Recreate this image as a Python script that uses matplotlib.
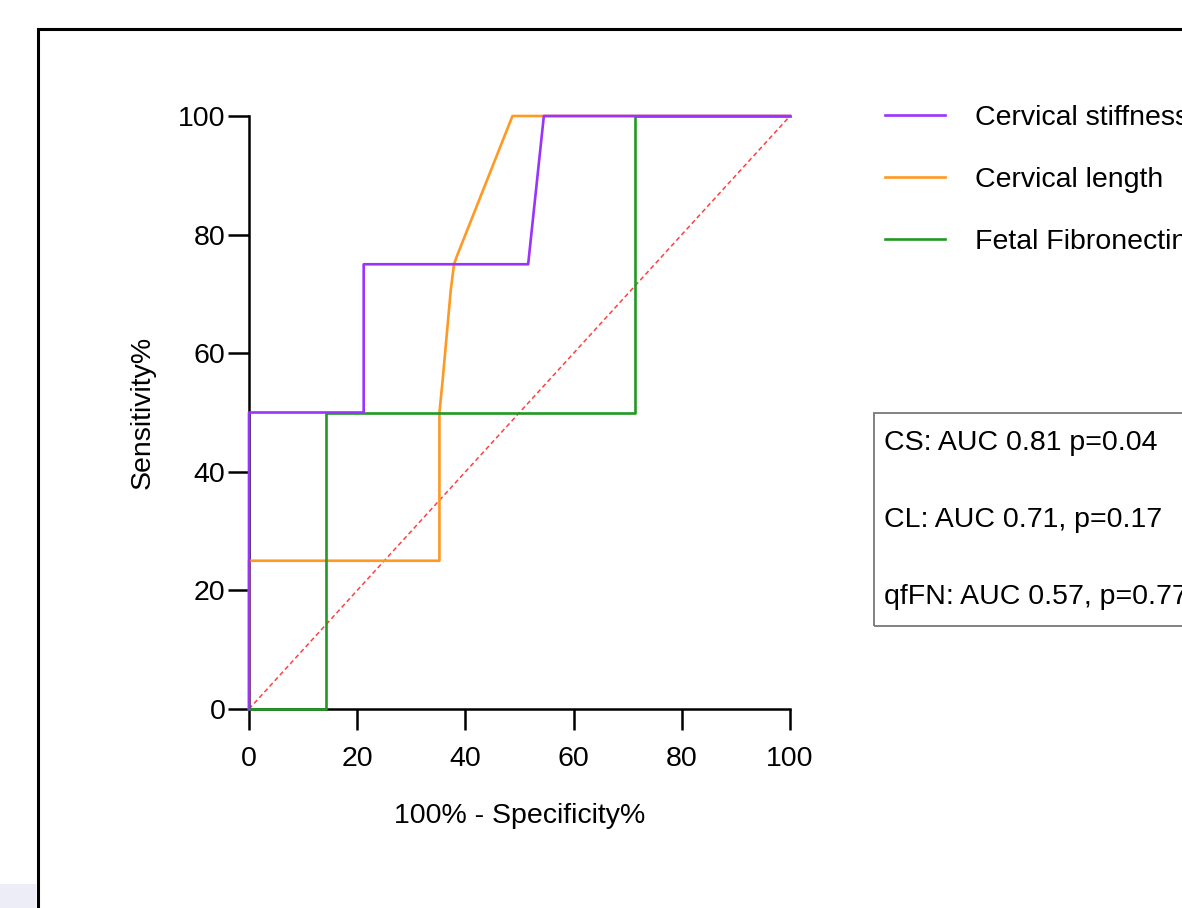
import matplotlib
matplotlib.use("Agg")
import matplotlib.pyplot as plt
from matplotlib.patches import Rectangle

plt.rcParams['font.family'] = ['Liberation Sans', 'DejaVu Sans']

# ROC curves (100% - specificity, sensitivity)
cs_x = [0, 0, 21.2, 21.2, 51.6, 54.5, 100]
cs_y = [0, 50, 50, 75, 75, 100, 100]
cl_x = [0, 0, 35.2, 35.2, 35.8, 37.3, 37.9, 38.4, 48.7, 100]
cl_y = [0, 25, 25, 50, 55.5, 70.7, 75, 76.3, 100, 100]
fn_x = [0, 14.3, 14.3, 71.3, 71.3, 100]
fn_y = [0, 0, 50, 50, 100, 100]
ref_x = [0, 100]
ref_y = [0, 100]

labels = ['Cervical stiffness', 'Cervical length', 'Fetal Fibronectin']
colors = ['#9933ff', '#ff9922', '#229922']
ticks = [0, 20, 40, 60, 80, 100]
stats = ['CS: AUC 0.81 p=0.04', 'CL: AUC 0.71, p=0.17', 'qfFN: AUC 0.57, p=0.77']

FS = 20.5
W, H = 1182, 908
fig = plt.figure(figsize=(W / 100, H / 100), dpi=100)
ax = fig.add_axes([249 / W, 1 - 709 / H, (790 - 249) / W, (709 - 116) / H])

ax.plot(ref_x, ref_y, color='#ff4040', lw=1.1, ls=(0, (3, 2)), clip_on=False, zorder=2)
lines = []
for xs, ys, c in [(cs_x, cs_y, colors[0]), (cl_x, cl_y, colors[1]), (fn_x, fn_y, colors[2])]:
    ln, = ax.plot(xs, ys, color=c, lw=1.9, clip_on=False, zorder=3)
    lines.append(ln)
# purple sits on top of the others
lines[0].set_zorder(4)

ax.set_xlim(0, 100)
ax.set_ylim(0, 100)
ax.set_xticks(ticks)
ax.set_yticks(ticks)
for s in ['top', 'right']:
    ax.spines[s].set_visible(False)
for s in ['left', 'bottom']:
    ax.spines[s].set_linewidth(1.8)
ax.tick_params(direction='out', length=15, width=1.8, labelsize=FS)
ax.tick_params(axis='x', pad=12)
ax.tick_params(axis='y', pad=2)
ax.set_xlabel('100% - Specificity%', fontsize=FS, labelpad=22)
ax.set_ylabel('Sensitivity%', fontsize=FS, labelpad=16)

# legend runs off the right edge, as in the screenshot
fig.legend(lines, labels, loc='upper left', bbox_to_anchor=(885 / W, 1 - 105 / H),
           frameon=False, fontsize=FS, handlelength=2.1, handletextpad=1.05,
           labelspacing=1.27, borderpad=0, borderaxespad=0)

# stats box
fig.patches.append(Rectangle((874 / W, 1 - 626 / H), 400 / W, (626 - 413) / H,
                             transform=fig.transFigure, fill=False,
                             edgecolor='#777777', lw=1.3))
for i, t in enumerate(stats):
    fig.text(884 / W, 1 - (443 + 77 * i) / H, t, fontsize=FS, va='center', ha='left')

# screenshot frame and corner strip
fig.patches.append(Rectangle((38 / W, -0.1), 1.2, 1.1 - 29 / H,
                             transform=fig.transFigure, fill=False,
                             edgecolor='black', lw=2.2))
fig.patches.append(Rectangle((0, 0), 36 / W, 24 / H, transform=fig.transFigure,
                             facecolor='#ecedf6', edgecolor='none'))

fig.savefig('out.png', dpi=100)
